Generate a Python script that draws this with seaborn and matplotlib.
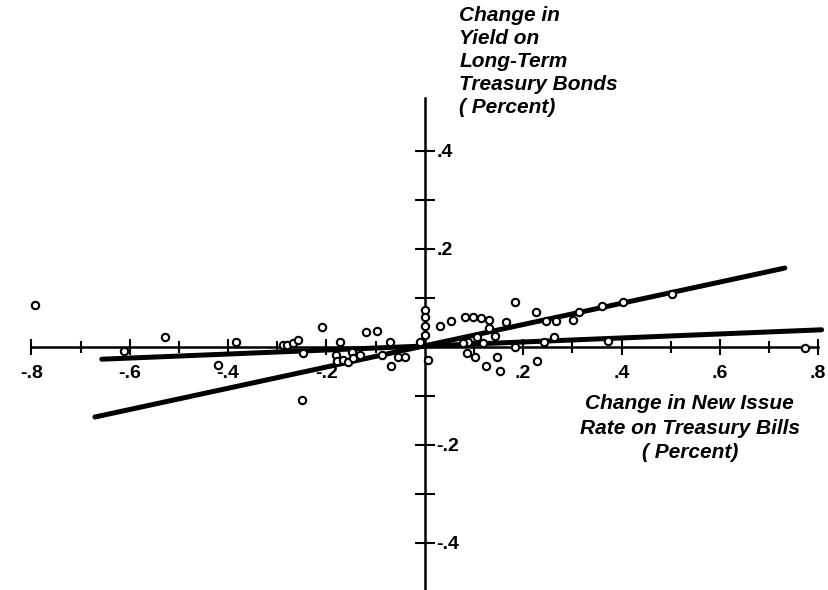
import numpy as np
import pandas as pd
import matplotlib
matplotlib.use("Agg")
import matplotlib.pyplot as plt
from matplotlib.ticker import FixedLocator, FixedFormatter
import seaborn as sns

bill_change = [
    -0.792, -0.529, -0.612, -0.420, -0.384,
    -0.288, -0.280, -0.268, -0.258, -0.247, -0.210, -0.249,
    -0.173, -0.180, -0.178, -0.166, -0.157, -0.149, -0.146, -0.132,
    -0.119, -0.098, -0.070, -0.088, -0.068, -0.054, -0.041,
    0.000, 0.000, 0.000, 0.000, -0.010, 0.007,
    0.031, 0.054, 0.081, 0.098, 0.114, 0.130, 0.130, 0.142, 0.106,
    0.088, 0.078, 0.119, 0.085, 0.102, 0.125, 0.146, 0.153,
    0.183, 0.166, 0.183, 0.227, 0.228, 0.247, 0.266, 0.242, 0.263,
    0.302, 0.314, 0.361, 0.373, 0.403, 0.502, 0.773,
]
bond_change = [
    0.085, 0.021, -0.008, -0.036, 0.010,
    0.004, 0.004, 0.008, 0.014, -0.012, 0.040, -0.108,
    0.011, -0.016, -0.028, -0.027, -0.030, -0.010, -0.023, -0.016,
    0.030, 0.032, 0.010, -0.016, -0.039, -0.020, -0.020,
    0.076, 0.062, 0.042, 0.025, 0.011, -0.027,
    0.042, 0.052, 0.061, 0.061, 0.059, 0.054, 0.039, 0.023, 0.021,
    0.010, 0.008, 0.008, -0.012, -0.020, -0.038, -0.020, -0.050,
    0.091, 0.050, 0.000, 0.072, -0.029, 0.052, 0.052, 0.011, 0.021,
    0.054, 0.071, 0.084, 0.012, 0.092, 0.109, -0.003,
]

# fitted lines, end points
steep_x = [-0.671, 0.732]
steep_y = [-0.143, 0.161]
flat_x = [-0.657, 0.807]
flat_y = [-0.025, 0.035]

x_major = [-0.8, -0.6, -0.4, -0.2, 0.2, 0.4, 0.6, 0.8]
x_labels = ["-.8", "-.6", "-.4", "-.2", ".2", ".4", ".6", ".8"]
x_minor = [-0.7, -0.5, -0.3, -0.1, 0.1, 0.3, 0.5, 0.7]
y_major = [-0.4, -0.2, 0.2, 0.4]
y_labels = ["-.4", "-.2", ".2", ".4"]
y_minor = [-0.3, -0.1, 0.1, 0.3]

sns.set_style("white")
plt.rcParams['font.family'] = ['Liberation Sans', 'DejaVu Sans']
plt.rcParams['text.color'] = 'black'

fig = plt.figure(figsize=(8.29, 5.9), dpi=100)
ax = fig.add_axes([0, 0, 1, 1])

pts = pd.DataFrame({'bill': bill_change, 'bond': bond_change})
sns.scatterplot(data=pts, x='bill', y='bond', ax=ax, marker='o', s=28,
                facecolor='white', edgecolor='black', linewidth=1.5, zorder=4)

lines = pd.DataFrame({
    'x': steep_x + flat_x,
    'y': steep_y + flat_y,
    'fit': ['steep'] * 2 + ['flat'] * 2,
})
sns.lineplot(data=lines, x='x', y='y', units='fit', estimator=None, ax=ax,
             color='black', linewidth=3.6, solid_capstyle='round', zorder=3)

ax.set_xlim(-0.864, 0.822)
ax.set_ylim(-0.496, 0.708)

# axes crossing at the origin
for side in ['top', 'left']:
    ax.spines[side].set_visible(False)
ax.spines['bottom'].set_position(('data', 0))
ax.spines['right'].set_position(('data', 0))
ax.spines['bottom'].set_bounds(-0.8, 0.8)
ax.spines['right'].set_bounds(-0.5, 0.508)
for side in ['bottom', 'right']:
    ax.spines[side].set_linewidth(1.8)
    ax.spines[side].set_color('black')
    ax.spines[side].set_zorder(2)

ax.yaxis.tick_right()
ax.xaxis.set_major_locator(FixedLocator(x_major))
ax.xaxis.set_major_formatter(FixedFormatter(x_labels))
ax.xaxis.set_minor_locator(FixedLocator(x_minor))
ax.yaxis.set_major_locator(FixedLocator(y_major))
ax.yaxis.set_major_formatter(FixedFormatter(y_labels))
ax.yaxis.set_minor_locator(FixedLocator(y_minor))

ax.tick_params(axis='x', which='major', direction='inout', length=12, width=1.5,
               pad=7, labelsize=14, colors='black', bottom=True)
ax.tick_params(axis='x', which='minor', direction='inout', length=9, width=1.5,
               bottom=True, colors='black')
ax.tick_params(axis='y', which='major', direction='inout', length=15, width=1.5,
               pad=1, labelsize=14, colors='black', right=True, left=False)
ax.tick_params(axis='y', which='minor', direction='inout', length=15, width=1.5,
               right=True, left=False, colors='black')
for lab in ax.get_xticklabels() + ax.get_yticklabels():
    lab.set_fontweight('bold')
ax.set_xlabel('')
ax.set_ylabel('')
ax.grid(False)

fig.text(0.554, 0.99,
         "Change in\nYield on\nLong-Term\nTreasury Bonds\n( Percent)",
         ha='left', va='top', fontsize=15, style='italic', fontweight='bold',
         linespacing=1.27)
fig.text(0.832, 0.332,
         "Change in New Issue\nRate on Treasury Bills\n( Percent)",
         ha='center', va='top', fontsize=15, style='italic', fontweight='bold',
         linespacing=1.36)

fig.savefig('out.png', dpi=100)
